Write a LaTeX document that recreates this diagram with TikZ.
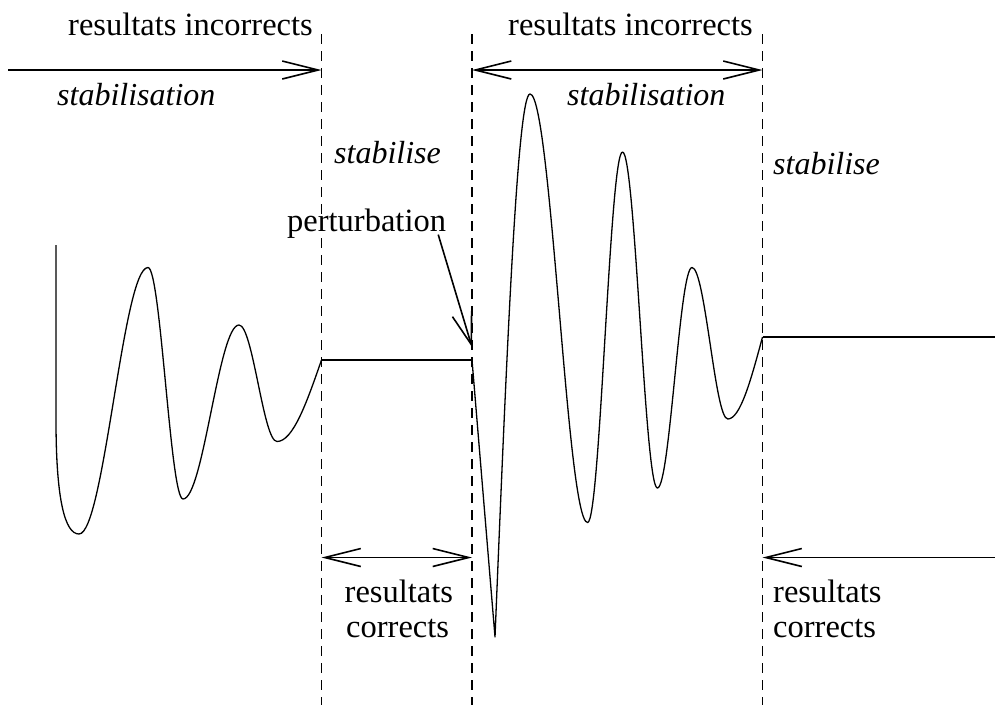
\documentclass[tikz,border=0pt]{standalone}
\usepackage{fontspec}
\setmainfont{Liberation Serif}
\usetikzlibrary{arrows.meta,calc}
\begin{document}
\begin{tikzpicture}[x=1pt,y=-1pt,
  lbl/.style={inner sep=0pt, anchor=base west, font=\fontsize{32.5}{35}\selectfont},
  ilbl/.style={inner sep=0pt, anchor=base west, font=\fontsize{32}{35}\selectfont\itshape},
  guide/.style={line width=1.4pt, dash pattern=on 10pt off 7pt},
  wave/.style={line width=1.3pt, line join=round},
  flat/.style={line width=1.3pt},
  barb/.style={line width=1.6pt, -{Straight Barb[length=36pt,width=18pt,line width=1.6pt]}},
  dbarb/.style={line width=1.6pt, {Straight Barb[length=36pt,width=18pt,line width=1.6pt]}-{Straight Barb[length=36pt,width=18pt,line width=1.6pt]}},
  pbarb/.style={line width=1.6pt, -{Straight Barb[length=32pt,width=20pt,line width=1.6pt]}}]
\useasboundingbox (0,0) rectangle (995,705);
\fill[white] (0,0) rectangle (995,705);

% guide coordinates
\coordinate (g1t) at (321.5,34); \coordinate (g1b) at (321.5,705);
\coordinate (g2t) at (472,34);   \coordinate (g2b) at (472,705);
\coordinate (g3t) at (762.5,34); \coordinate (g3b) at (762.5,705);
\draw[guide] (g1t) -- (g1b);
\draw[guide] (g2t) -- (g2b);
\draw[guide] (g3t) -- (g3b);

% texts
\node[lbl] (ri1) at (68,35) {resultats incorrects};
\node[lbl] (ri2) at (508,35) {resultats incorrects};
\node[ilbl] (st1) at (57,105.5) {stabilisation};
\node[ilbl] (st2) at (567,105) {stabilisation};
\node[ilbl] (sb1) at (334,163) {stabilise};
\node[ilbl] (sb2) at (773,174) {stabilise};
\node[lbl] (pert) at (287,231.5) {perturbation};
\node[lbl] (rc1a) at (344.5,602.5) {resultats};
\node[lbl] (rc1b) at (346,637.5) {corrects};
\node[lbl] (rc2a) at (773,602.5) {resultats};
\node[lbl] (rc2b) at (773,637.5) {corrects};

% arrows
\coordinate (a1s) at (8,70);    \coordinate (a1e) at (321.5,70);
\coordinate (a2s) at (472,70);  \coordinate (a2e) at (762.5,70);
\coordinate (a3s) at (321.5,557.5); \coordinate (a3e) at (472,557.5);
\coordinate (a4s) at (995,557.5); \coordinate (a4e) at (762.5,557.5);
\draw[barb] (a1s) -- (a1e);
\draw[dbarb] (a2s) -- (a2e);
\draw[dbarb] (a3s) -- (a3e);
\draw[barb] (a4s) -- (a4e);
\coordinate (ptip) at (472,347);
\draw[pbarb] ($(pert.south east)+(-8,-4)$) -- (ptip);

% left wave
\draw[wave] (56,245) -- (56,420) .. controls (56,500) and (65,534) .. (79,534)
  cos (113.5,401) sin (148,267.5)
  cos (165.5,383) sin (183,499)
  cos (211,412) sin (239,325)
  cos (258,383) sin (277,441.5)
  cos (321.5,360);
\draw[flat] (321.5,360) -- (472,360);

% right wave
\draw[wave] (472,360) -- (495,637) sin (530,94)
  cos (559,308) sin (587.6,522.5)
  cos (605,337) sin (622.5,152)
  cos (640,320) sin (657.4,488)
  cos (674.7,378) sin (692,267.5)
  cos (710,343) sin (727.8,419)
  cos (762.5,337);
\draw[flat] (762.5,337) -- (995,337);
\end{tikzpicture}
\end{document}
